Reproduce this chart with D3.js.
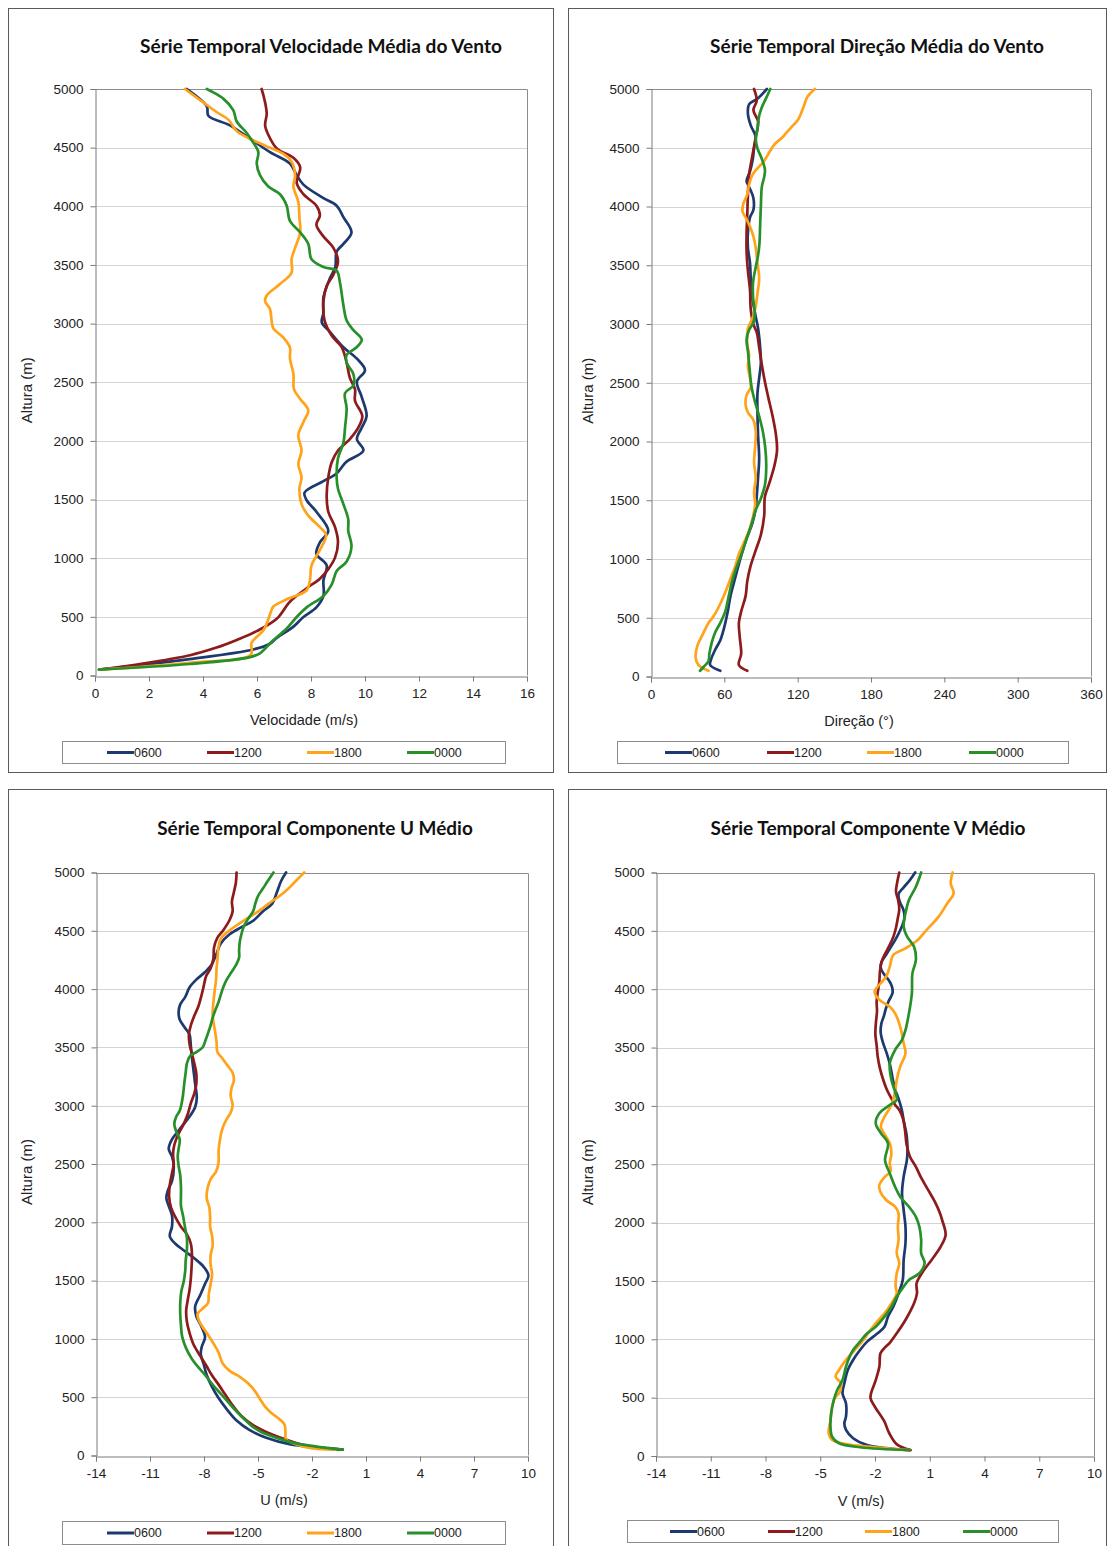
<!DOCTYPE html>
<html lang="pt">
<head>
<meta charset="utf-8">
<script src="https://cdn.jsdelivr.net/npm/d3@7"></script>
<style>
  html, body { margin: 0; padding: 0; background: #fff; }
  svg { display: block; }
  .tick text { font-family: "Liberation Sans", Arial, sans-serif; font-size: 13.5px; fill: #222; }
</style>
</head>
<body>
<svg id="chart" width="1107" height="1546"></svg>
<script>
// Horários das sondagens e cores das séries
const horarios = ["0600", "1200", "1800", "0000"];
const cores = ["#1D3A70", "#8E1B1B", "#FFA31A", "#27902A"];

// Velocidade média do vento: pares [altura (m), velocidade (m/s)]
const velocidade0600 = [[50,0.15],[140,3.5],[222,5.86],[271,6.48],[320,6.73],[417,7.35],[499,7.72],[581,8.2],[678,8.46],[809,8.46],[939,8.58],[1037,8.2],[1135,8.33],[1233,8.64],[1396,8.2],[1494,7.84],[1559,7.76],[1657,8.46],[1722,8.95],[1820,9.3],[1918,9.94],[2016,9.7],[2113,9.88],[2211,10.06],[2374,9.88],[2505,9.7],[2603,10.0],[2701,9.7],[2798,9.2],[2929,8.7],[3010,8.4],[3092,8.46],[3222,8.46],[3386,8.7],[3483,8.9],[3614,8.95],[3679,9.2],[3777,9.5],[3907,9.2],[4005,8.95],[4070,8.46],[4185,7.72],[4266,7.47],[4364,7.22],[4462,6.48],[4576,5.74],[4690,5.0],[4772,4.2],[4853,4.14],[5000,3.4]];
const velocidade1200 = [[50,0.15],[98,1.67],[173,3.52],[238,4.5],[303,5.25],[378,5.99],[483,6.73],[629,7.22],[744,7.84],[825,8.33],[907,8.64],[1005,8.89],[1135,9.0],[1265,8.89],[1396,8.64],[1526,8.58],[1689,8.64],[1820,8.77],[1918,9.0],[2016,9.44],[2113,9.75],[2211,9.9],[2342,9.63],[2440,9.63],[2537,9.44],[2668,9.32],[2798,9.14],[2896,8.77],[3027,8.5],[3190,8.46],[3320,8.58],[3418,8.83],[3532,9.0],[3646,8.83],[3744,8.46],[3842,8.2],[3924,8.33],[4005,8.2],[4103,7.72],[4201,7.47],[4331,7.6],[4413,7.35],[4494,6.73],[4609,6.42],[4690,6.3],[4788,6.36],[4886,6.3],[5000,6.17]];
const velocidade1800 = [[50,0.15],[108,3.5],[177,5.77],[279,5.8],[390,6.25],[533,6.5],[586,6.6],[646,7.07],[727,7.84],[809,7.96],[939,8.02],[1070,8.33],[1200,8.56],[1265,8.33],[1363,7.9],[1461,7.65],[1592,7.57],[1689,7.65],[1804,7.53],[1918,7.65],[2048,7.53],[2162,7.72],[2260,7.9],[2358,7.6],[2440,7.37],[2570,7.35],[2701,7.22],[2798,7.22],[2880,6.98],[2962,6.6],[3027,6.54],[3125,6.48],[3190,6.3],[3239,6.36],[3337,6.85],[3434,7.28],[3548,7.28],[3646,7.41],[3777,7.6],[3907,7.57],[4038,7.53],[4168,7.35],[4266,7.41],[4380,7.28],[4446,6.98],[4511,6.36],[4576,5.74],[4641,5.25],[4739,4.94],[4804,4.5],[4886,4.01],[5000,3.33]];
const velocidade0000 = [[50,0.15],[98,3.52],[157,5.74],[189,6.11],[287,6.54],[401,7.1],[499,7.47],[581,7.84],[678,8.46],[776,8.77],[890,8.95],[972,9.32],[1102,9.5],[1233,9.38],[1331,9.38],[1461,9.2],[1592,9.0],[1689,8.95],[1853,9.0],[1983,9.2],[2113,9.26],[2277,9.32],[2407,9.26],[2472,9.57],[2570,9.57],[2668,9.32],[2733,9.32],[2798,9.69],[2864,9.88],[2945,9.57],[3027,9.32],[3157,9.2],[3353,9.07],[3451,8.95],[3483,8.46],[3548,8.02],[3679,7.9],[3777,7.6],[3875,7.22],[4005,7.1],[4103,6.85],[4168,6.42],[4266,6.11],[4364,5.99],[4462,6.05],[4543,5.86],[4625,5.62],[4723,5.25],[4820,5.12],[4918,4.75],[5000,4.14]];

// Direção média do vento: pares [altura (m), direção (°)]
const direcao0600 = [[49,56.7],[98,48.4],[147,49.2],[228,52.5],[309,56.7],[423,60.0],[554,62.8],[684,65.0],[847,69.1],[1010,73.3],[1173,78.2],[1303,82.9],[1433,85.7],[1531,86.5],[1694,87.6],[1856,88.5],[2052,87.6],[2247,87.1],[2410,87.1],[2540,88.5],[2671,89.9],[2801,89.3],[2964,87.6],[3062,85.7],[3224,82.9],[3388,81.6],[3518,81.0],[3648,79.3],[3778,79.3],[3908,81.0],[3973,83.8],[4071,83.8],[4169,80.2],[4218,78.2],[4299,81.0],[4397,83.2],[4495,84.3],[4592,85.7],[4690,81.6],[4788,79.3],[4869,80.2],[4918,87.1],[5000,94.8]];
const direcao1200 = [[49,78.8],[98,71.9],[195,73.8],[326,72.7],[456,71.9],[554,73.8],[684,77.4],[814,78.8],[945,81.6],[1075,85.7],[1205,89.9],[1368,92.6],[1531,93.2],[1645,96.8],[1791,100.9],[1922,103.1],[2052,102.3],[2215,99.5],[2378,95.9],[2508,93.2],[2671,90.4],[2801,88.5],[2931,86.5],[2996,83.8],[3127,81.6],[3290,81.0],[3452,79.3],[3615,78.2],[3778,78.2],[3941,78.8],[4104,79.3],[4267,80.2],[4430,82.9],[4592,85.7],[4723,87.6],[4820,83.8],[4902,86.5],[5000,84.3]];
const direcao1800 = [[49,47.0],[98,38.7],[163,36.5],[261,37.9],[358,42.3],[456,47.0],[521,51.7],[619,56.7],[717,60.8],[831,65.0],[928,68.6],[1042,71.9],[1140,76.0],[1238,80.2],[1335,82.9],[1466,85.2],[1563,84.3],[1694,85.7],[1824,84.3],[1954,85.2],[2085,85.7],[2182,83.8],[2247,79.3],[2312,77.4],[2394,78.2],[2459,81.6],[2540,81.0],[2638,79.3],[2736,80.2],[2834,78.8],[2964,79.3],[3045,82.9],[3127,85.2],[3257,87.1],[3387,88.5],[3518,87.1],[3648,85.7],[3746,83.8],[3827,81.0],[3892,78.2],[3957,74.9],[4022,75.5],[4104,78.8],[4185,80.2],[4267,82.9],[4325,87.1],[4381,92.1],[4462,96.8],[4527,100.9],[4592,107.8],[4674,114.7],[4739,120.3],[4837,124.4],[4934,128.0],[5000,134.1]];
const direcao0000 = [[49,40.1],[81,42.9],[130,47.0],[195,47.8],[293,49.8],[375,52.5],[456,56.7],[554,60.8],[684,63.6],[814,66.4],[928,69.9],[1042,74.1],[1173,78.2],[1303,82.4],[1417,85.7],[1515,89.9],[1629,93.2],[1791,94.3],[1954,93.4],[2085,91.5],[2215,88.5],[2345,84.9],[2475,82.1],[2638,80.5],[2768,79.3],[2866,78.2],[2948,80.2],[3013,83.8],[3094,84.9],[3224,83.5],[3355,83.5],[3485,85.7],[3583,87.6],[3680,88.7],[3843,89.3],[4006,89.9],[4169,90.7],[4250,92.6],[4316,93.2],[4413,90.4],[4495,87.1],[4576,85.7],[4658,87.1],[4772,88.5],[4837,90.4],[4918,94.0],[5000,97.6]];

// Componente U médio: pares [altura (m), U (m/s)]
const componenteU0600 = [[50,-0.3],[98,-3.25],[153,-4.54],[218,-5.46],[300,-6.19],[398,-6.74],[495,-7.20],[593,-7.57],[691,-7.85],[789,-8.03],[870,-8.18],[935,-8.12],[1017,-7.94],[1098,-8.12],[1196,-8.43],[1278,-8.49],[1376,-8.21],[1473,-7.94],[1545,-7.75],[1620,-8.03],[1685,-8.49],[1750,-9.04],[1816,-9.59],[1881,-9.90],[1962,-9.78],[2060,-9.78],[2141,-9.96],[2207,-10.09],[2272,-10.01],[2353,-9.78],[2484,-9.68],[2565,-9.78],[2630,-9.96],[2712,-9.78],[2777,-9.46],[2842,-9.13],[2907,-8.80],[2989,-8.49],[3070,-8.40],[3185,-8.49],[3299,-8.58],[3413,-8.67],[3510,-8.73],[3608,-8.80],[3673,-9.08],[3739,-9.35],[3804,-9.41],[3869,-9.32],[3934,-9.04],[4016,-8.80],[4081,-8.43],[4146,-7.94],[4211,-7.57],[4293,-7.33],[4391,-7.07],[4472,-6.56],[4531,-5.92],[4586,-5.27],[4668,-4.72],[4733,-4.21],[4831,-3.95],[4929,-3.71],[5000,-3.44]];
const componenteU1200 = [[50,-0.3],[78,-2.15],[137,-3.44],[196,-4.45],[261,-5.27],[339,-5.92],[430,-6.41],[528,-6.84],[610,-7.20],[691,-7.57],[772,-7.88],[854,-8.21],[952,-8.58],[1050,-8.80],[1147,-8.95],[1245,-8.99],[1327,-8.91],[1424,-8.80],[1522,-8.73],[1620,-8.69],[1718,-8.67],[1816,-8.73],[1897,-8.95],[1962,-9.28],[2044,-9.59],[2125,-9.83],[2223,-9.94],[2321,-9.90],[2419,-9.78],[2500,-9.68],[2582,-9.72],[2663,-9.65],[2744,-9.46],[2842,-9.13],[2924,-8.91],[3022,-8.73],[3103,-8.54],[3185,-8.43],[3282,-8.43],[3364,-8.54],[3445,-8.67],[3527,-8.80],[3608,-8.84],[3690,-8.73],[3771,-8.54],[3853,-8.31],[3934,-8.16],[4016,-8.03],[4113,-7.88],[4179,-7.63],[4260,-7.48],[4358,-7.44],[4440,-7.26],[4505,-6.93],[4586,-6.60],[4668,-6.41],[4749,-6.45],[4831,-6.34],[4912,-6.23],[5000,-6.19]];
const componenteU1800 = [[50,-0.68],[72,-2.34],[137,-3.44],[196,-3.47],[267,-3.53],[316,-3.84],[365,-4.26],[424,-4.63],[489,-4.91],[554,-5.18],[619,-5.55],[675,-6.01],[724,-6.56],[789,-6.96],[887,-7.20],[952,-7.44],[1017,-7.70],[1082,-7.99],[1147,-8.25],[1213,-8.36],[1261,-8.07],[1310,-7.77],[1376,-7.74],[1473,-7.63],[1555,-7.55],[1636,-7.63],[1718,-7.63],[1799,-7.52],[1881,-7.55],[1962,-7.66],[2044,-7.66],[2125,-7.70],[2207,-7.85],[2288,-7.81],[2370,-7.63],[2435,-7.33],[2516,-7.19],[2614,-7.19],[2712,-7.11],[2793,-7.00],[2875,-6.78],[2940,-6.52],[3005,-6.41],[3087,-6.52],[3152,-6.47],[3217,-6.34],[3282,-6.41],[3348,-6.71],[3413,-7.02],[3462,-7.26],[3543,-7.30],[3641,-7.39],[3722,-7.48],[3788,-7.52],[3885,-7.48],[3983,-7.41],[4081,-7.33],[4179,-7.30],[4277,-7.24],[4358,-7.20],[4433,-7.07],[4488,-6.71],[4547,-6.19],[4602,-5.64],[4651,-5.13],[4700,-4.69],[4749,-4.26],[4798,-3.81],[4857,-3.35],[4929,-2.89],[5000,-2.43]];
const componenteU0000 = [[50,-0.3],[104,-2.89],[153,-3.99],[202,-4.82],[241,-5.24],[316,-5.79],[414,-6.41],[512,-6.96],[600,-7.48],[691,-7.94],[756,-8.31],[828,-8.67],[919,-8.99],[1017,-9.21],[1115,-9.28],[1213,-9.32],[1310,-9.32],[1408,-9.26],[1490,-9.13],[1587,-9.04],[1669,-9.02],[1767,-8.95],[1864,-8.95],[1962,-9.06],[2060,-9.17],[2141,-9.28],[2223,-9.28],[2304,-9.28],[2402,-9.32],[2484,-9.41],[2565,-9.46],[2630,-9.41],[2712,-9.35],[2777,-9.54],[2842,-9.65],[2907,-9.54],[2956,-9.35],[3022,-9.24],[3087,-9.17],[3185,-9.10],[3282,-9.02],[3364,-8.95],[3429,-8.76],[3462,-8.40],[3501,-8.07],[3559,-7.92],[3625,-7.77],[3690,-7.63],[3755,-7.52],[3820,-7.37],[3885,-7.20],[3950,-7.07],[4016,-6.93],[4081,-6.74],[4146,-6.47],[4205,-6.23],[4270,-6.05],[4335,-6.05],[4407,-6.01],[4472,-5.92],[4537,-5.79],[4602,-5.55],[4668,-5.27],[4733,-5.15],[4798,-5.00],[4864,-4.72],[4929,-4.45],[5000,-4.14]];

// Componente V médio: pares [altura (m), V (m/s)]
const componenteV0600 = [[50,-0.1],[94,-2.43],[152,-3.2],[223,-3.59],[280,-3.68],[337,-3.59],[451,-3.59],[537,-3.78],[623,-3.68],[737,-3.49],[823,-3.2],[908,-2.82],[980,-2.43],[1051,-1.86],[1108,-1.48],[1194,-1.29],[1279,-1.0],[1394,-0.71],[1508,-0.48],[1680,-0.43],[1823,-0.33],[1965,-0.33],[2108,-0.43],[2251,-0.52],[2393,-0.43],[2540,-0.25],[2638,-0.22],[2752,-0.27],[2866,-0.42],[2964,-0.53],[3062,-0.71],[3143,-0.91],[3241,-1.04],[3355,-1.18],[3452,-1.36],[3550,-1.58],[3632,-1.69],[3706,-1.65],[3772,-1.51],[3837,-1.40],[3902,-1.24],[3967,-1.04],[4022,-1.07],[4078,-1.25],[4130,-1.51],[4185,-1.69],[4234,-1.64],[4293,-1.40],[4358,-1.15],[4423,-0.89],[4488,-0.67],[4553,-0.49],[4619,-0.38],[4684,-0.45],[4749,-0.64],[4814,-0.71],[4869,-0.45],[4935,-0.09],[5000,0.2]];
const componenteV1200 = [[50,-0.05],[100,-0.8],[195,-1.22],[300,-1.5],[420,-2.0],[500,-2.25],[650,-1.96],[765,-1.76],[880,-1.70],[930,-1.45],[970,-1.19],[1051,-0.81],[1165,-0.33],[1308,0.14],[1394,0.30],[1480,0.28],[1579,0.62],[1680,1.10],[1794,1.60],[1894,1.87],[2022,1.68],[2085,1.55],[2182,1.27],[2280,0.91],[2378,0.55],[2475,0.25],[2567,-0.09],[2671,-0.27],[2785,-0.35],[2882,-0.45],[2957,-0.64],[3013,-0.91],[3078,-1.15],[3143,-1.36],[3224,-1.55],[3322,-1.73],[3420,-1.85],[3518,-1.91],[3615,-1.98],[3713,-1.95],[3811,-1.89],[3892,-1.91],[3973,-1.85],[4071,-1.76],[4153,-1.73],[4234,-1.64],[4306,-1.44],[4371,-1.22],[4446,-1.00],[4527,-0.85],[4609,-0.75],[4684,-0.67],[4762,-0.73],[4837,-0.85],[4918,-0.78],[5000,-0.67]];
const componenteV1800 = [[50,-0.1],[80,-2.4],[100,-3.5],[137,-4.35],[194,-4.54],[308,-4.44],[422,-4.35],[508,-4.16],[537,-3.97],[623,-3.87],[680,-4.16],[737,-3.97],[823,-3.59],[908,-3.11],[994,-2.63],[1080,-2.25],[1137,-1.96],[1223,-1.48],[1308,-1.10],[1394,-0.81],[1451,-0.87],[1566,-0.81],[1651,-0.67],[1737,-0.81],[1851,-0.71],[1965,-0.75],[2079,-0.71],[2136,-0.90],[2194,-1.39],[2265,-1.71],[2322,-1.76],[2393,-1.45],[2440,-1.15],[2508,-1.19],[2594,-1.1],[2679,-1.19],[2736,-1.39],[2822,-1.68],[2907,-1.48],[3008,-1.1],[3122,-0.90],[3222,-0.81],[3336,-0.62],[3451,-0.33],[3536,-0.43],[3679,-0.62],[3793,-0.90],[3850,-1.19],[3908,-1.76],[3979,-2.02],[4021,-1.86],[4107,-1.39],[4193,-1.19],[4293,-1.0],[4350,-0.33],[4421,0.34],[4507,0.82],[4622,1.49],[4736,1.96],[4822,2.31],[4907,2.15],[5000,2.25]];
const componenteV0000 = [[50,-0.1],[75,-2.82],[109,-3.97],[165,-4.35],[251,-4.44],[366,-4.40],[480,-4.26],[566,-4.07],[651,-3.78],[765,-3.59],[851,-3.39],[908,-3.2],[980,-2.82],[1051,-2.43],[1108,-1.96],[1194,-1.48],[1279,-1.10],[1365,-0.81],[1451,-0.43],[1508,-0.14],[1566,0.43],[1651,0.72],[1737,0.53],[1851,0.53],[1965,0.43],[2050,0.24],[2136,-0.14],[2222,-0.62],[2307,-0.90],[2422,-1.19],[2536,-1.45],[2679,-1.29],[2765,-1.67],[2851,-1.96],[2937,-1.76],[3008,-1.19],[3051,-0.81],[3108,-0.87],[3222,-1.1],[3365,-1.19],[3479,-0.90],[3565,-0.52],[3650,-0.33],[3793,-0.14],[3965,0.02],[4136,0.05],[4250,0.24],[4364,0.14],[4450,-0.24],[4536,-0.43],[4650,-0.33],[4764,-0.14],[4878,0.24],[5000,0.53]];

// Rótulos dos eixos
const alturaTicks = [0, 500, 1000, 1500, 2000, 2500, 3000, 3500, 4000, 4500, 5000];
const velocidadeTicks = [0, 2, 4, 6, 8, 10, 12, 14, 16];
const direcaoTicks = [0, 60, 120, 180, 240, 300, 360];
const componenteTicks = [-14, -11, -8, -5, -2, 1, 4, 7, 10];

// Disposição dos quatro gráficos
const paineis = [
  { caixa: [8, 8, 545, 764], plot: [95, 89, 527, 675.5], titulo: "Série Temporal Velocidade Média do Vento", tituloX: 321, tituloY: 53, tituloW: 362,
    eixoX: "Velocidade (m/s)", eixoXcx: 304, eixoYx: 27, dominio: [0, 16], ticks: velocidadeTicks,
    series: [velocidade0600, velocidade1200, velocidade1800, velocidade0000],
    legenda: [62, 741, 443, 22], itens: [45, 145, 245, 345] },
  { caixa: [568, 8, 538, 764], plot: [651, 89, 1091, 676.5], titulo: "Série Temporal Direção Média do Vento", tituloX: 877, tituloY: 53, tituloW: 334,
    eixoX: "Direção (°)", eixoXcx: 859, eixoYx: 588, dominio: [0, 360], ticks: direcaoTicks,
    series: [direcao0600, direcao1200, direcao1800, direcao0000],
    legenda: [617, 741, 451, 22], itens: [48, 150, 250, 352] },
  { caixa: [8, 789, 545, 800], plot: [96, 872.5, 528, 1455.5], titulo: "Série Temporal Componente U Médio", tituloX: 315, tituloY: 835, tituloW: 316,
    eixoX: "U (m/s)", eixoXcx: 284, eixoYx: 27, dominio: [-14, 10], ticks: componenteTicks,
    series: [componenteU0600, componenteU1200, componenteU1800, componenteU0000],
    legenda: [62, 1521, 443, 23], itens: [45, 145, 245, 345] },
  { caixa: [568, 789, 538, 800], plot: [656, 872.5, 1094, 1456], titulo: "Série Temporal Componente V Médio", tituloX: 868, tituloY: 835, tituloW: 315,
    eixoX: "V (m/s)", eixoXcx: 861, eixoYx: 588, dominio: [-14, 10], ticks: componenteTicks,
    series: [componenteV0600, componenteV1200, componenteV1800, componenteV0000],
    legenda: [627, 1520, 431, 22], itens: [43, 141, 238, 336] }
];

const svg = d3.select("#chart");
const fonteTexto = '"Liberation Sans", Arial, sans-serif';

paineis.forEach((p, i) => {
  const g = svg.append("g");
  const [bx, by, bw, bh] = p.caixa;
  g.append("rect").attr("x", bx + 0.5).attr("y", by + 0.5).attr("width", bw).attr("height", bh)
    .attr("fill", "#fff").attr("stroke", "#5a5a5a").attr("stroke-width", 1);

  const [x0, y0, x1, y1] = p.plot;
  const x = d3.scaleLinear().domain(p.dominio).range([x0, x1]);
  const y = d3.scaleLinear().domain([0, 5000]).range([y1, y0]);

  // Linhas de grade horizontais
  g.append("g").selectAll("line").data(alturaTicks.filter(v => v > 0 && v < 5000)).join("line")
    .attr("x1", x0).attr("x2", x1)
    .attr("y1", d => Math.round(y(d)) + 0.5).attr("y2", d => Math.round(y(d)) + 0.5)
    .attr("stroke", "#d4d4d4").attr("stroke-width", 1);

  // Borda da área de plotagem (topo e direita)
  g.append("path")
    .attr("d", `M${x0},${Math.round(y0) + 0.5}H${Math.round(x1) + 0.5}V${y1}`)
    .attr("fill", "none").attr("stroke", "#8c8c8c").attr("stroke-width", 1);

  // Eixos
  const eixoX = d3.axisBottom(x).tickValues(p.ticks).tickFormat(d => String(d)).tickSize(5).tickPadding(7);
  const gx = g.append("g").attr("transform", `translate(0,${Math.round(y1) + 0.5})`).call(eixoX);
  const eixoY = d3.axisLeft(y).tickValues(alturaTicks).tickFormat(d => String(d)).tickSize(5).tickPadding(7);
  const gy = g.append("g").attr("transform", `translate(${Math.round(x0) + 0.5},0)`).call(eixoY);
  [gx, gy].forEach(a => {
    a.select(".domain").attr("stroke", "#7a7a7a");
    a.selectAll(".tick line").attr("stroke", "#7a7a7a");
    a.selectAll(".tick text").attr("fill", "#222");
  });
  gx.selectAll(".tick text").attr("dy", "0.71em");

  // Curvas das quatro sondagens
  const clipId = "clip" + i;
  g.append("clipPath").attr("id", clipId).append("rect")
    .attr("x", x0).attr("y", y0 - 2).attr("width", x1 - x0 + 2).attr("height", y1 - y0 + 2);
  const linha = d3.line()
    .x(d => x(d[1])).y(d => y(d[0]))
    .curve(d3.curveCatmullRom.alpha(0.5));
  g.append("g").attr("clip-path", `url(#${clipId})`)
    .selectAll("path").data(p.series).join("path")
    .attr("d", d => linha(d.slice().sort((a, b) => a[0] - b[0])))
    .attr("fill", "none")
    .attr("stroke", (d, k) => cores[k])
    .attr("stroke-width", 2.7)
    .attr("stroke-linejoin", "round")
    .attr("stroke-linecap", "round");

  // Título
  const t = g.append("text").attr("x", p.tituloX).attr("y", p.tituloY)
    .attr("text-anchor", "middle")
    .attr("font-family", "Lato, 'Open Sans', sans-serif").attr("font-weight", "bold")
    .attr("font-size", 17).attr("fill", "#111").text(p.titulo);
  const largura = t.node().getComputedTextLength();
  if (largura > 0) t.attr("font-size", (17 * p.tituloW / largura).toFixed(2));

  // Títulos dos eixos
  g.append("text").attr("x", p.eixoXcx).attr("y", y1 + 49.5)
    .attr("text-anchor", "middle").attr("font-family", fonteTexto).attr("font-size", 14.5)
    .attr("fill", "#222").text(p.eixoX);
  g.append("text").attr("transform", `translate(${p.eixoYx},${(y0 + y1) / 2 + 8}) rotate(-90)`)
    .attr("text-anchor", "middle").attr("dy", "0.35em").attr("font-family", fonteTexto).attr("font-size", 15)
    .attr("fill", "#222").text("Altura (m)");

  // Legenda
  const [lx, ly, lw, lh] = p.legenda;
  const lg = g.append("g").attr("transform", `translate(${lx},${ly})`);
  lg.append("rect").attr("x", 0.5).attr("y", 0.5).attr("width", lw).attr("height", lh)
    .attr("fill", "#fff").attr("stroke", "#8c8c8c");
  horarios.forEach((h, k) => {
    const ix = p.itens[k];
    lg.append("line").attr("x1", ix).attr("x2", ix + 27).attr("y1", lh / 2 + 0.5).attr("y2", lh / 2 + 0.5)
      .attr("stroke", cores[k]).attr("stroke-width", 3);
    lg.append("text").attr("x", ix + 27).attr("y", lh / 2 + 0.5).attr("dy", "0.35em")
      .attr("font-family", fonteTexto).attr("font-size", 12.5).attr("fill", "#222").text(h);
  });
});
</script>
</body>
</html>
